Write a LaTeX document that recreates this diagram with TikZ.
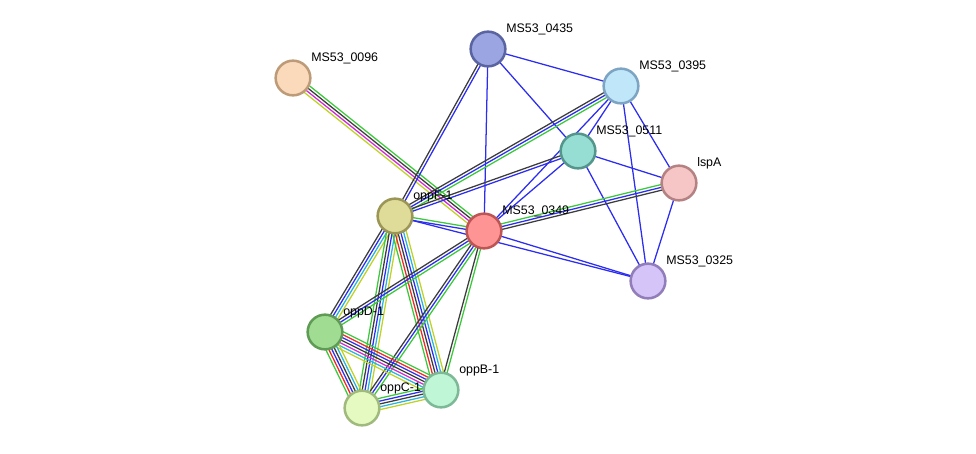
\documentclass[tikz,border=0pt]{standalone}
\usepackage{fontspec}
\setmainfont{Liberation Sans}
\usetikzlibrary{calc,backgrounds}

\definecolor{sgreen}{RGB}{60,200,60}
\definecolor{sblue}{RGB}{45,45,240}
\definecolor{sgray}{RGB}{60,60,60}
\definecolor{sred}{RGB}{240,40,40}
\definecolor{smag}{RGB}{210,40,210}
\definecolor{scyan}{RGB}{40,180,220}
\definecolor{syel}{RGB}{190,210,40}
% protein fills and rims
\definecolor{f0435}{RGB}{155,165,225}\definecolor{d0435}{RGB}{90,100,160}
\definecolor{f0096}{RGB}{250,218,186}\definecolor{d0096}{RGB}{190,155,120}
\definecolor{f0395}{RGB}{192,230,250}\definecolor{d0395}{RGB}{125,165,195}
\definecolor{f0511}{RGB}{150,222,212}\definecolor{d0511}{RGB}{85,150,140}
\definecolor{flspA}{RGB}{246,198,198}\definecolor{dlspA}{RGB}{180,130,130}
\definecolor{foppF}{RGB}{222,220,152}\definecolor{doppF}{RGB}{155,150,85}
\definecolor{f0349}{RGB}{255,148,148}\definecolor{d0349}{RGB}{190,85,85}
\definecolor{f0325}{RGB}{212,196,248}\definecolor{d0325}{RGB}{145,125,185}
\definecolor{foppD}{RGB}{160,220,145}\definecolor{doppD}{RGB}{95,155,85}
\definecolor{foppB}{RGB}{190,246,214}\definecolor{doppB}{RGB}{125,185,150}
\definecolor{foppC}{RGB}{228,250,192}\definecolor{doppC}{RGB}{160,185,125}

% multi-line evidence edge: from, to, number of lines, colours
\newcommand{\sedge}[4]{%
  \foreach \c [count=\i] in {#4} {
    \pgfmathsetmacro\off{(\i-(#3+1)/2)*2.1}
    \draw[evid=\c] ($(#1)!\off pt!90:(#2)$) -- ($(#2)!\off pt!-90:(#1)$);
  }}

\tikzset{
  prot/.style={circle,minimum size=26pt,inner sep=0pt,line width=1.9pt,fill=f#1,draw=d#1},
  lbl/.style={anchor=base west,font=\fontsize{9.3}{11}\selectfont,inner sep=0pt},
  evid/.style={color=#1,line width=0.95pt}
}

\begin{document}
\begin{tikzpicture}[x=0.75pt,y=-0.75pt]
  \useasboundingbox (0,0) rectangle (976,454);
  % proteins
  \node[prot=0435] (n0435) at (488,49) {};
  \node[prot=0096] (n0096) at (293,78) {};
  \node[prot=0395] (n0395) at (621,86) {};
  \node[prot=0511] (n0511) at (578,151) {};
  \node[prot=lspA] (lspA) at (679,183) {};
  \node[prot=oppF] (oppF) at (395,216) {};
  \node[prot=0349] (n0349) at (484,231) {};
  \node[prot=0325] (n0325) at (648,281) {};
  \node[prot=oppD] (oppD) at (325,332) {};
  \node[prot=oppB] (oppB) at (441,390) {};
  \node[prot=oppC] (oppC) at (362,408) {};

  % labels
  \node[lbl] (t0435) at (506,32) {MS53\_0435};
  \node[lbl] (t0096) at (311,61) {MS53\_0096};
  \node[lbl] (t0395) at (639,69) {MS53\_0395};
  \node[lbl] (t0511) at (596,134) {MS53\_0511};
  \node[lbl] (tlspA) at (697,166) {lspA};
  \node[lbl] (toppF) at (413,199) {oppF-1};
  \node[lbl] (t0349) at (502,214) {MS53\_0349};
  \node[lbl] (t0325) at (666,264) {MS53\_0325};
  \node[lbl] (toppD) at (343,315) {oppD-1};
  \node[lbl] (toppB) at (459,373) {oppB-1};
  \node[lbl] (toppC) at (380,391) {oppC-1};

  % edges
  \begin{scope}[on background layer]
    \sedge{n0096}{n0349}{4}{syel,smag,sgray,sgreen}
    \sedge{n0435}{oppF}{2}{sgray,sblue}
    \sedge{n0435}{n0349}{1}{sblue}
    \sedge{n0435}{n0511}{1}{sblue}
    \sedge{n0435}{n0395}{1}{sblue}
    \sedge{n0395}{oppF}{3}{sgray,sblue,sgreen}
    \sedge{n0395}{n0511}{1}{sblue}
    \sedge{n0395}{n0349}{1}{sblue}
    \sedge{n0395}{lspA}{1}{sblue}
    \sedge{n0395}{n0325}{1}{sblue}
    \sedge{n0511}{oppF}{2}{sgray,sblue}
    \sedge{n0511}{n0349}{1}{sblue}
    \sedge{n0511}{lspA}{1}{sblue}
    \sedge{n0511}{n0325}{1}{sblue}
    \sedge{lspA}{n0349}{3}{sgreen,sblue,sgray}
    \sedge{lspA}{n0325}{1}{sblue}
    \sedge{n0349}{n0325}{1}{sblue}
    \sedge{oppF}{n0325}{1}{sblue}
    \sedge{oppF}{n0349}{2}{sblue,sgreen}
    \sedge{oppF}{oppD}{4}{sgray,sblue,scyan,syel}
    \sedge{oppF}{oppC}{5}{sgreen,sgray,sblue,scyan,syel}
    \sedge{oppF}{oppB}{6}{sgreen,sred,sgray,sblue,scyan,syel}
    \sedge{n0349}{oppD}{3}{sgray,sblue,sgreen}
    \sedge{n0349}{oppC}{3}{sgray,sblue,sgreen}
    \sedge{n0349}{oppB}{2}{sgray,sgreen}
    \sedge{oppD}{oppB}{7}{syel,scyan,smag,sgray,sblue,sred,sgreen}
    \sedge{oppD}{oppC}{6}{sgreen,sred,sblue,sgray,scyan,syel}
    \sedge{oppC}{oppB}{5}{syel,scyan,sgray,sblue,sgreen}
  \end{scope}
\end{tikzpicture}
\end{document}
